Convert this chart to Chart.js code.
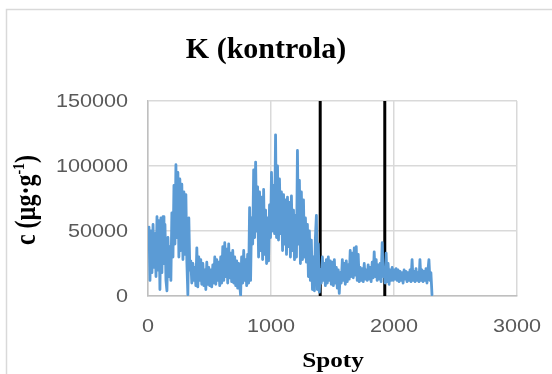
<!DOCTYPE html>
<html>
<head>
<meta charset="utf-8">
<script src="https://cdn.jsdelivr.net/npm/chart.js@4/dist/chart.umd.min.js"></script>
<style>
  html, body { margin: 0; padding: 0; background: #fff; overflow: hidden; }
  #wrap { position: relative; width: 552px; height: 374px; }
</style>
</head>
<body>
<div id="wrap"><canvas id="c" width="552" height="374"></canvas></div>
<script>
// Spot spacing between consecutive samples of the concentration trace
const spotStep = 8.1;

// K concentration per sampled spot (µg·g⁻¹)
const concentration = [
  38000, 53000, 12000, 50000, 18000, 55000, 22000, 48000,
  15000, 61000, 20000, 58000, 5000, 60000, 18000, 61000,
  25000, 55000, 12000, 4000, 45000, 15000, 38000, 12000, 64000,
  30000, 85000, 40000, 101000, 45000, 95000,
  30000, 90000, 35000, 86000, 28000, 80000, 32000, 78000,
  26000, 1000, 60000, 20000,
  27000, 10000, 25000, 12000, 22000,
  8000, 37000, 7000, 30000, 12000,
  28000, 9000, 25000, 8000, 20000,
  5000, 26000, 9000, 22000, 8000,
  20000, 7000, 24000, 10000, 30000,
  9000, 28000, 12000, 26000, 8000, 30000, 10000,
  38000, 12000, 41000, 15000, 36000, 10000, 40000, 14000, 33000, 11000, 35000,
  10000, 30000, 8000, 27000, 6000, 25000, 9000,
  500,
  30000, 10000, 35000, 12000, 28000, 8000, 32000, 10000,
  68000, 12000, 60000,
  40000, 97000, 45000, 103000, 50000,
  84000, 30000, 80000, 35000, 76000, 28000, 82000, 32000,
  66000, 25000, 60000, 27000, 70000,
  45000, 95000, 50000, 85000, 48000,
  124000, 45000,
  100000, 43000, 90000, 48000, 80000,
  35000, 78000, 40000, 74000, 32000, 76000, 38000, 72000, 30000, 77000,
  35000, 66000, 28000, 62000, 30000,
  112000,
  40000, 89000, 25000, 80000,
  28000, 74000, 30000, 60000, 26000,
  55000, 15000, 50000, 12000, 43000,
  5000, 30000, 4000, 45000, 62000,
  5000, 40000, 3000, 20000,
  10000, 30000, 12000, 25000, 8000, 28000,
  10000, 30000, 12000, 27000, 9000, 26000,
  8000, 28000, 10000, 22000, 6000,
  20000, 2000, 18000,
  10000, 28000, 12000, 25000, 9000, 27000, 11000, 24000, 13000,
  35000, 15000, 33000, 14000, 37000,
  16000, 38000, 12000, 32000, 11000,
  22000, 12000, 21000, 11000, 25000, 13000, 20000, 12000,
  24000, 13000, 22000, 11000, 26000,
  14000, 34000, 15000, 28000,
  12000, 24000, 13000, 25000, 11000,
  41000, 15000, 22000, 10000,
  33000, 11000, 25000, 9000, 20000, 12000,
  22000, 12000, 20000, 13000, 21000, 12000,
  20000, 11000, 19000, 12000, 18000, 10000, 20000, 13000, 19000, 11000, 18000, 12000, 20000, 11000,
  28000,
  12000, 19000, 11000, 21000, 12000, 18000, 11000,
  28000,
  12000, 20000, 11000, 19000, 12000, 21000, 10000, 20000,
  28000, 12000, 18000, 1000
];

// Boundary spots marked with vertical lines
const markerSpots = [1400, 1925];

// Axis ranges and tick labels
const xTicks = [0, 1000, 2000, 3000];
const yTicks = [0, 50000, 100000, 150000];

const chartTitle = 'K (kontrola)';
const xTitle = 'Spoty';
const yTitleMain = 'c (µg·g';
const yTitleSup = '-1';
const yTitleEnd = ')';

const series = concentration.map((v, i) => ({ x: Math.round(i * spotStep), y: v }));

const markerSets = markerSpots.map(s => ({
  data: [{ x: s, y: yTicks[0] }, { x: s, y: yTicks[yTicks.length - 1] }],
  borderColor: '#000000',
  borderWidth: 3,
  pointRadius: 0,
  fill: false
}));

// Horizontally widened text
function wideText(ctx, text, x, y, align, baseline, sx) {
  ctx.save();
  ctx.translate(x, y);
  ctx.scale(sx, 1);
  ctx.textAlign = align;
  ctx.textBaseline = baseline;
  ctx.fillText(text, 0, 0);
  ctx.restore();
}

const SX = 1.2;

const textPlugin = {
  id: 'textPlugin',
  beforeDraw(chart) {
    const ctx = chart.ctx;
    ctx.save();
    ctx.fillStyle = '#ffffff';
    ctx.fillRect(0, 0, chart.width, chart.height);
    ctx.strokeStyle = '#d9d9d9';
    ctx.lineWidth = 1.5;
    ctx.strokeRect(6.5, 9.5, 700, 500);
    ctx.restore();
  },
  afterDraw(chart) {
    const ctx = chart.ctx;
    const xs = chart.scales.x, ys = chart.scales.y;
    ctx.save();
    // tick labels
    ctx.fillStyle = '#595959';
    ctx.font = '18px "Liberation Sans", Arial, sans-serif';
    yTicks.forEach(v => wideText(ctx, String(v), xs.left - 20, ys.getPixelForValue(v) + 1, 'right', 'middle', SX));
    xTicks.forEach(v => wideText(ctx, String(v), xs.getPixelForValue(v), ys.bottom + 31, 'center', 'middle', SX));

    // chart title
    ctx.fillStyle = '#000000';
    ctx.font = 'bold 30px "Liberation Serif", "Times New Roman", serif';
    wideText(ctx, chartTitle, 266, 58, 'center', 'alphabetic', 1);

    // x axis title
    ctx.font = 'bold 21px "Liberation Serif", "Times New Roman", serif';
    wideText(ctx, xTitle, 333, 367, 'center', 'alphabetic', SX);

    // y axis title, rotated, with superscript exponent
    ctx.save();
    ctx.translate(35, 200);
    ctx.rotate(-Math.PI / 2);
    ctx.scale(1, SX);
    ctx.textBaseline = 'alphabetic';
    ctx.textAlign = 'left';
    const mainFont = 'bold 24px "Liberation Serif", "Times New Roman", serif';
    const supFont = 'bold 14px "Liberation Serif", "Times New Roman", serif';
    ctx.font = mainFont;
    const w1 = ctx.measureText(yTitleMain).width;
    const w3 = ctx.measureText(yTitleEnd).width;
    ctx.font = supFont;
    const w2 = ctx.measureText(yTitleSup).width;
    let x0 = -(w1 + w2 + w3) / 2;
    ctx.font = mainFont;
    ctx.fillText(yTitleMain, x0, 0);
    ctx.font = supFont;
    ctx.fillText(yTitleSup, x0 + w1, -9);
    ctx.font = mainFont;
    ctx.fillText(yTitleEnd, x0 + w1 + w2, 0);
    ctx.restore();

    ctx.restore();
  }
};

new Chart(document.getElementById('c'), {
  type: 'line',
  data: {
    datasets: [
      {
        data: series,
        borderColor: '#5B9BD5',
        borderWidth: 2.8,
        borderJoinStyle: 'round',
        borderCapStyle: 'round',
        pointRadius: 0,
        tension: 0,
        fill: false
      },
      ...markerSets
    ]
  },
  options: {
    responsive: false,
    animation: false,
    layout: { padding: { left: 148, right: 35, top: 101, bottom: 78 } },
    plugins: { legend: { display: false }, tooltip: { enabled: false }, title: { display: false } },
    scales: {
      x: {
        type: 'linear',
        min: xTicks[0],
        max: xTicks[xTicks.length - 1],
        ticks: { stepSize: 1000, display: false },
        grid: { color: '#d9d9d9', lineWidth: 1.5, drawTicks: false },
        border: { display: true, color: '#bfbfbf', width: 1.5 }
      },
      y: {
        type: 'linear',
        min: yTicks[0],
        max: yTicks[yTicks.length - 1],
        ticks: { stepSize: 50000, display: false },
        grid: { color: '#d9d9d9', lineWidth: 1.5, drawTicks: false },
        border: { display: true, color: '#bfbfbf', width: 1.5 }
      }
    }
  },
  plugins: [textPlugin]
});
</script>
</body>
</html>
